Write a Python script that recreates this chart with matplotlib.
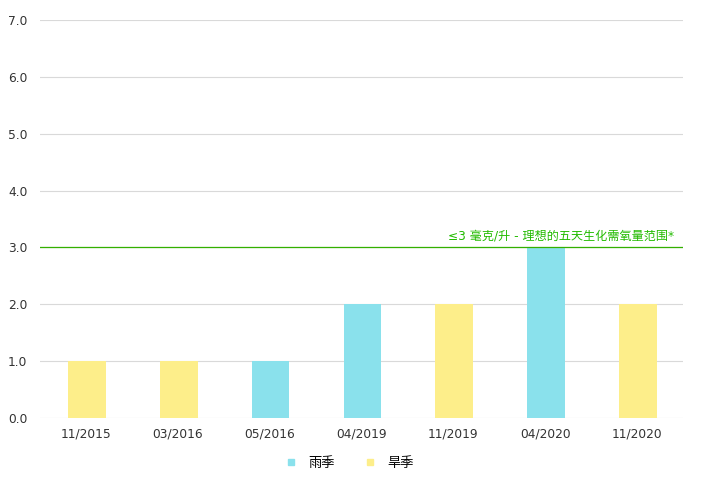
import matplotlib.pyplot as plt
from matplotlib.lines import Line2D

plt.rcParams['font.family'] = ['DejaVu Sans', 'Noto Sans CJK SC']

# 数据
dates = ["11/2015", "03/2016", "05/2016", "04/2019", "11/2019", "04/2020", "11/2020"]
values = [1.0, 1.0, 1.0, 2.0, 2.0, 3.0, 2.0]
seasons = ["dry", "dry", "wet", "wet", "dry", "wet", "dry"]
season_names = {"wet": "雨季", "dry": "旱季"}
season_colors = {"wet": "#8ae1ec", "dry": "#fdee8a"}
limit = 3.0
limit_label = "≤3 毫克/升 - 理想的五天生化需氧量范围*"

fig = plt.figure(figsize=(7.02, 4.98), dpi=100)
ax = fig.add_axes([40 / 702, 1 - 418 / 498, 643 / 702, 398 / 498])

x = range(len(dates))
ax.bar([i + 0.01 for i in x], values, width=0.41,
       color=[season_colors[s] for s in seasons], zorder=2)

ax.set_xlim(-0.5, len(dates) - 0.5)
ax.set_ylim(0, 7)
ax.set_yticks(range(8))
ax.set_yticklabels([f"{v:.1f}" for v in range(8)])
ax.set_xticks(list(x))
ax.set_xticklabels(dates)
ax.grid(axis="y", color="#d9d9d9", linewidth=0.8, zorder=0)
for s in ax.spines.values():
    s.set_visible(False)
ax.tick_params(length=0, labelsize=8.8, colors="#333333")
ax.tick_params(axis="y", pad=9)
ax.tick_params(axis="x", pad=7)

ax.axhline(limit, color="#33b000", linewidth=0.9, zorder=3)
ax.text(len(dates) - 0.6, limit + 0.08, limit_label, color="#22bb00",
        fontsize=8.7, ha="right", va="bottom")

handles = [Line2D([], [], marker="s", linestyle="", markersize=5,
                  color=season_colors[k], label=season_names[k])
           for k in ["wet", "dry"]]
fig.legend(handles=handles, loc="center", bbox_to_anchor=(346 / 702, 1 - 463 / 498),
           ncol=2, frameon=False, fontsize=9.5, handletextpad=0.3, columnspacing=1.7)

fig.savefig("out.png", dpi=100)
